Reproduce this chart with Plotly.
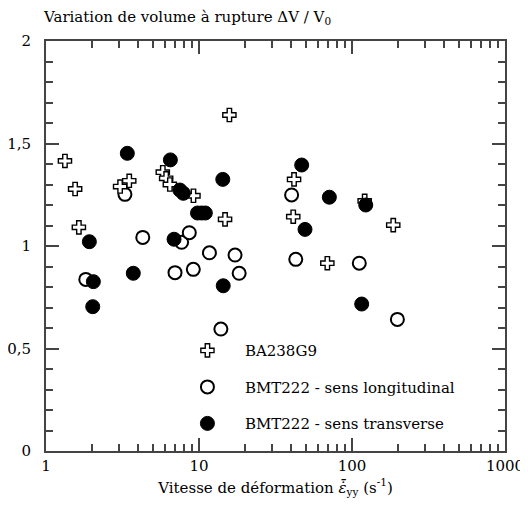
import plotly.graph_objects as go

# BA238G9 (crosses)
ba_x = [1.33, 1.55, 1.64, 3.05, 3.5, 5.8, 6.1, 6.45, 9.2, 15.8, 14.8, 41.8, 41.3, 69, 186, 121]
ba_y = [1.415, 1.278, 1.091, 1.29, 1.318, 1.36, 1.33, 1.30, 1.245, 1.639, 1.13, 1.325, 1.143, 0.916, 1.102, 1.22]

# BMT222 - sens longitudinal (open circles)
lo_x = [1.82, 3.28, 4.29, 6.97, 7.7, 8.64, 9.18, 11.7, 13.9, 17.2, 18.3, 40.3, 42.9, 111.6, 198]
lo_y = [0.837, 1.252, 1.042, 0.870, 1.018, 1.065, 0.886, 0.967, 0.595, 0.956, 0.867, 1.249, 0.935, 0.916, 0.642]

# BMT222 - sens transverse (filled circles)
tr_x = [1.92, 2.04, 2.02, 3.4, 3.72, 6.5, 6.87, 7.5, 7.9, 9.78, 10.4, 11.0, 14.3, 14.4, 46.9, 49.3, 71.1, 123, 115.7]
tr_y = [1.021, 0.826, 0.704, 1.452, 0.867, 1.42, 1.033, 1.273, 1.257, 1.161, 1.161, 1.161, 1.325, 0.806, 1.395, 1.081, 1.238, 1.2, 0.717]

x_ticks = [1, 10, 100, 1000]
x_ticklabels = ["1", "10", "100", "1000"]
y_ticks = [0, 0.5, 1, 1.5, 2]
y_ticklabels = ["0", "0,5", "1", "1,5", "2"]

FONT = "DejaVu Serif"

fig = go.Figure()
fig.add_trace(go.Scatter(
    x=lo_x, y=lo_y, mode="markers", name="BMT222 - sens longitudinal", legendrank=2, legendgroup="b",
    marker=dict(symbol="circle", size=13, color="white", line=dict(color="black", width=2)),
))
fig.add_trace(go.Scatter(
    x=ba_x, y=ba_y, mode="markers", name="BA238G9", legendrank=1, legendgroup="a",
    marker=dict(symbol="cross", size=11, color="white", line=dict(color="black", width=1.4)),
))
fig.add_trace(go.Scatter(
    x=tr_x, y=tr_y, mode="markers", name="BMT222 - sens transverse", legendrank=3, legendgroup="c",
    marker=dict(symbol="circle", size=14, color="black", line=dict(color="black", width=1)),
))

minor_log = [m * d for d in (1, 10, 100) for m in range(2, 10)]

axis_common = dict(
    showline=True, linecolor="#444", linewidth=2, mirror="allticks",
    ticks="inside", ticklen=13, tickwidth=1.5, tickcolor="#444",
    showgrid=False, zeroline=False, automargin=False,
    tickfont=dict(family=FONT, size=15, color="black"),
)

fig.update_xaxes(
    type="log", range=[0, 3], tickvals=x_ticks, ticktext=x_ticklabels,
    minor=dict(tickvals=minor_log, ticks="inside", ticklen=7, tickwidth=1.5, tickcolor="#444", showgrid=False),
    title=dict(text="Vitesse de déformation <i>ε̇̄</i><sub>yy</sub> (s<sup>-1</sup>)",
               font=dict(family=FONT, size=15, color="black"), standoff=8),
    **axis_common,
)
fig.update_yaxes(
    range=[0, 2], tickvals=y_ticks, ticktext=y_ticklabels,
    minor=dict(dtick=0.1, ticks="inside", ticklen=7, tickwidth=1.5, tickcolor="#444", showgrid=False),
    ticklabelstandoff=10,
    **axis_common,
)

fig.add_annotation(
    xref="paper", yref="paper", x=-0.01, y=1, xanchor="left", yanchor="bottom", yshift=12,
    text="Variation de volume à rupture ΔV / V<sub>0</sub>", showarrow=False,
    font=dict(family=FONT, size=15, color="black"),
)

fig.update_layout(
    width=520, height=507,
    margin=dict(l=38, r=23, t=33, b=64),
    plot_bgcolor="white", paper_bgcolor="white",
    showlegend=True,
    legend=dict(x=0.27, y=0.285, xanchor="left", yanchor="top", bgcolor="rgba(0,0,0,0)",
                font=dict(family=FONT, size=15, color="black"), itemwidth=65,
                tracegroupgap=14),
)

fig.write_html("out.html")
